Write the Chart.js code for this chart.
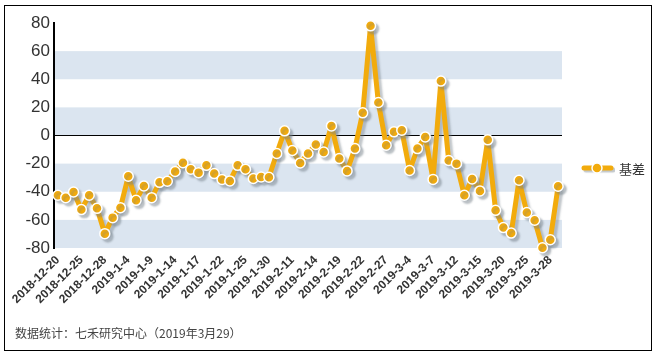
<!DOCTYPE html>
<html>
<head>
<meta charset="utf-8">
<script src="https://cdn.jsdelivr.net/npm/chart.js@4/dist/chart.umd.min.js"></script>
<style>
  html, body { margin: 0; padding: 0; background: #fff; }
  #wrap { position: relative; width: 659px; height: 356px; overflow: hidden; }
  #frame { position: absolute; left: 4px; top: 5px; width: 646px; height: 344px; border: 1.5px solid #000; }
  #c { position: absolute; left: 0; top: 0; }
  #legend { position: absolute; left: 581px; top: 159px; height: 18px; display: flex; align-items: center; font-family: "Noto Sans CJK SC", sans-serif; font-size: 13px; color: #333; }
  #legend canvas { margin-right: 4px; }
  #foot { position: absolute; left: 15px; top: 324px; font-family: "Noto Sans CJK SC", "Liberation Sans", sans-serif; font-size: 12px; color: #444; white-space: nowrap; }
</style>
</head>
<body>
<div id="wrap">
  <div id="frame"></div>
  <canvas id="c" width="659" height="356"></canvas>
  <div id="legend"><canvas id="lg" width="34" height="18"></canvas><span id="lgtext"></span></div>
  <div id="foot">数据统计：七禾研究中心（2019年3月29）</div>
</div>
<script>
const dates = [
  "2018-12-20","2018-12-21","2018-12-24","2018-12-25","2018-12-26","2018-12-27","2018-12-28",
  "2019-1-2","2019-1-3","2019-1-4","2019-1-7","2019-1-8","2019-1-9","2019-1-10","2019-1-11",
  "2019-1-14","2019-1-15","2019-1-16","2019-1-17","2019-1-18","2019-1-21","2019-1-22","2019-1-23",
  "2019-1-24","2019-1-25","2019-1-28","2019-1-29","2019-1-30","2019-1-31","2019-2-1",
  "2019-2-11","2019-2-12","2019-2-13","2019-2-14","2019-2-15","2019-2-18","2019-2-19","2019-2-20",
  "2019-2-21","2019-2-22","2019-2-25","2019-2-26","2019-2-27","2019-2-28","2019-3-1",
  "2019-3-4","2019-3-5","2019-3-6","2019-3-7","2019-3-8","2019-3-11","2019-3-12","2019-3-13",
  "2019-3-14","2019-3-15","2019-3-18","2019-3-19","2019-3-20","2019-3-21","2019-3-22",
  "2019-3-25","2019-3-26","2019-3-27","2019-3-28","2019-3-29"
];
const basis = [
  -42.5,-44.2,-40.2,-52.7,-42.5,-51.8,-69.8,
  -58.4,-51.3,-29,-46.1,-35.9,-44.2,-33.3,-32.5,
  -25.6,-19.3,-24,-26.4,-21.2,-27.1,-31.3,-32.3,
  -21.2,-24,-30.6,-29.5,-29.7,-12.8,3.3,
  -10.7,-19.5,-12.8,-6.4,-11.7,6.8,-16.4,-25.2,
  -9.3,16.1,78,23.5,-6.9,2.6,3.8,
  -24.9,-9.3,-1,-31.2,38.7,-17.8,-20,-42.5,
  -30.9,-39.4,-3.1,-53.2,-65.5,-69.4,-31.8,
  -54.8,-60.3,-79.8,-74.1,-36.1
];
const seriesName = "基差";
const yTicks = [-80,-60,-40,-20,0,20,40,60,80];
const bands = [[40,60],[0,20],[-40,-20],[-80,-60]];

const ORANGE = "#f2ab0c";

const bandPlugin = {
  id: "bands",
  beforeDraw(chart) {
    const {ctx, chartArea, scales} = chart;
    ctx.save();
    ctx.fillStyle = "#dbe5f0";
    bands.forEach(([a,b]) => {
      const y1 = scales.y.getPixelForValue(b), y2 = scales.y.getPixelForValue(a);
      ctx.fillRect(chartArea.left, y1, chartArea.right - chartArea.left, y2 - y1);
    });
    ctx.restore();
  }
};
const shadowPlugin = {
  id: "shadow",
  beforeDatasetsDraw(chart) {
    const ctx = chart.ctx;
    ctx.save();
    ctx.shadowColor = "rgba(120,130,140,0.45)";
    ctx.shadowOffsetX = 3;
    ctx.shadowOffsetY = 3;
    ctx.shadowBlur = 2;
  },
  afterDatasetsDraw(chart) { chart.ctx.restore(); }
};

new Chart(document.getElementById("c"), {
  type: "line",
  data: {
    labels: dates,
    datasets: [{
      label: seriesName,
      data: basis,
      borderColor: ORANGE,
      backgroundColor: ORANGE,
      borderWidth: 5,
      borderJoinStyle: "round",
      borderCapStyle: "round",
      pointRadius: 5,
      pointBorderWidth: 1.5,
      pointBorderColor: "#fff",
      pointBackgroundColor: ORANGE,
      tension: 0,
      clip: false
    }]
  },
  options: {
    responsive: false,
    animation: false,
    devicePixelRatio: 1,
    layout: { padding: { left: 0, right: 97, top: 23, bottom: 0 } },
    plugins: { legend: { display: false }, tooltip: { enabled: false } },
    scales: {
      x: {
        offset: true,
        grid: { display: false, drawTicks: false },
        border: { display: false },
        ticks: {
          autoSkip: false,
          minRotation: 45, maxRotation: 45,
          padding: 5,
          color: "#333",
          font: { family: "Liberation Sans, Arial", size: 12, weight: "bold" },
          callback: (v, i) => (i % 3 === 0 ? dates[i] : "")
        },
        afterFit: s => { s.height = 108; }
      },
      y: {
        min: -80, max: 80,
        afterBuildTicks: s => { s.ticks = yTicks.map(v => ({ value: v })); },
        grid: {
          drawTicks: false,
          color: c => (c.tick && c.tick.value === 0 ? "#000" : "rgba(0,0,0,0)"),
          lineWidth: 1
        },
        border: { display: true, color: "#000", width: 2 },
        ticks: {
          padding: 4,
          color: "#333",
          font: { family: "Liberation Sans, Arial", size: 17 }
        },
        afterFit: s => { s.width = 54; }
      }
    }
  },
  plugins: [bandPlugin, shadowPlugin]
});

// legend icon
document.getElementById("lgtext").textContent = seriesName;
const lg = document.getElementById("lg").getContext("2d");
lg.shadowColor = "rgba(120,130,140,0.45)";
lg.shadowOffsetX = 2; lg.shadowOffsetY = 2; lg.shadowBlur = 1;
lg.strokeStyle = ORANGE; lg.lineWidth = 5; lg.lineCap = "round";
lg.beginPath(); lg.moveTo(3, 9); lg.lineTo(30, 9); lg.stroke();
lg.shadowColor = "rgba(0,0,0,0)";
lg.beginPath(); lg.arc(16, 9, 5, 0, Math.PI * 2);
lg.fillStyle = ORANGE; lg.fill(); lg.lineWidth = 1.5; lg.strokeStyle = "#fff"; lg.stroke();
</script>
</body>
</html>
